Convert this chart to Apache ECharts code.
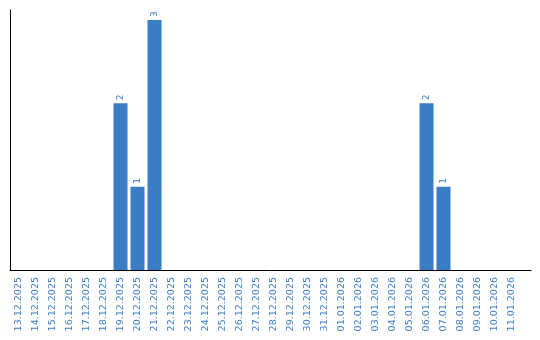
<!DOCTYPE html>
<html>
<head>
<meta charset="utf-8">
<script src="https://cdn.jsdelivr.net/npm/echarts@6/dist/echarts.min.js"></script>
<style>html,body{margin:0;padding:0;background:#fff}#c{width:540px;height:340px}</style>
</head>
<body>
<div id="c"></div>
<script>
const categories = ["13.12.2025","14.12.2025","15.12.2025","16.12.2025","17.12.2025","18.12.2025","19.12.2025","20.12.2025","21.12.2025","22.12.2025","23.12.2025","24.12.2025","25.12.2025","26.12.2025","27.12.2025","28.12.2025","29.12.2025","30.12.2025","31.12.2025","01.01.2026","02.01.2026","03.01.2026","04.01.2026","05.01.2026","06.01.2026","07.01.2026","08.01.2026","09.01.2026","10.01.2026","11.01.2026"];
const values = [0,0,0,0,0,0,2,1,3,0,0,0,0,0,0,0,0,0,0,0,0,0,0,0,2,1,0,0,0,0];
const yMax = 3.12;

const blue = '#3b7dc4';
const chart = echarts.init(document.getElementById('c'), null, {renderer:'canvas'});
chart.setOption({
  animation: false,
  grid: [
    {left: 10, top: 10, width: 521, bottom: 70, containLabel: false},
    {left: 10, top: 10, width: 510, bottom: 70, containLabel: false}
  ],
  xAxis: [
    {gridIndex: 0, type: 'category', data: categories, axisLine: {show: true, lineStyle: {color: '#000', width: 1}}, axisTick: {show: false}, axisLabel: {show: false}, splitLine: {show: false}},
    {gridIndex: 1, type: 'category', data: categories, axisLine: {show: false}, axisTick: {show: false},
     axisLabel: {rotate: 90, interval: 0, margin: 7, color: blue, fontFamily: 'DejaVu Sans', fontSize: 9.5}}
  ],
  yAxis: [
    {gridIndex: 0, type: 'value', min: 0, max: yMax, axisLine: {show: true, lineStyle: {color: '#000', width: 1}}, axisTick: {show: false}, axisLabel: {show: false}, splitLine: {show: false}},
    {gridIndex: 1, type: 'value', min: 0, max: yMax, show: false, splitLine: {show: false}}
  ],
  series: [{
    type: 'bar',
    xAxisIndex: 1, yAxisIndex: 1,
    data: values.map(v => v === 0 ? null : v),
    barWidth: 14,
    itemStyle: {color: blue},
    label: {show: true, position: 'top', rotate: 90, align: 'left', verticalAlign: 'middle', distance: 3,
            color: blue, fontFamily: 'DejaVu Sans', fontSize: 9}
  }]
});
</script>
</body>
</html>
